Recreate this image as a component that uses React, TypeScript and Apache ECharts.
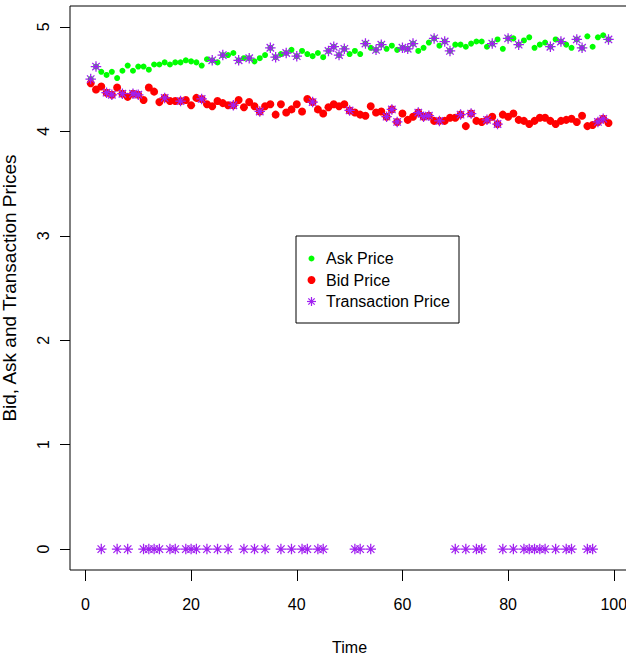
import { useEffect, useRef } from "react";
import * as echarts from "echarts";

// Quotes and trades over 99 time steps (transaction price 0 = no trade)
const ASK_PRICE = [
  4.5, 4.62, 4.57, 4.54, 4.57, 4.51, 4.58, 4.63, 4.58, 4.62,
  4.62, 4.59, 4.64, 4.64, 4.66, 4.64, 4.66, 4.66, 4.68, 4.67,
  4.66, 4.63, 4.69, 4.68, 4.66, 4.73, 4.73, 4.75, 4.68, 4.7,
  4.7, 4.67, 4.7, 4.73, 4.8, 4.71, 4.74, 4.75, 4.78, 4.72,
  4.77, 4.74, 4.72, 4.75, 4.71, 4.77, 4.81, 4.73, 4.79, 4.74,
  4.77, 4.74, 4.84, 4.8, 4.78, 4.83, 4.79, 4.82, 4.78, 4.8,
  4.79, 4.84, 4.77, 4.8, 4.85, 4.89, 4.82, 4.86, 4.77, 4.83,
  4.83, 4.81, 4.84, 4.86, 4.86, 4.81, 4.84, 4.88, 4.79, 4.89,
  4.89, 4.83, 4.87, 4.9, 4.8, 4.83, 4.85, 4.81, 4.88, 4.86,
  4.83, 4.8, 4.88, 4.8, 4.91, 4.81, 4.9, 4.92, 4.88,
];

const BID_PRICE = [
  4.46, 4.4, 4.43, 4.37, 4.35, 4.42, 4.36, 4.33, 4.36, 4.35,
  4.3, 4.42, 4.38, 4.28, 4.32, 4.29, 4.29, 4.29, 4.3, 4.25,
  4.32, 4.31, 4.26, 4.24, 4.29, 4.27, 4.25, 4.25, 4.3, 4.23,
  4.28, 4.24, 4.19, 4.24, 4.26, 4.16, 4.26, 4.18, 4.21, 4.26,
  4.19, 4.31, 4.28, 4.21, 4.17, 4.23, 4.26, 4.24, 4.26, 4.2,
  4.18, 4.16, 4.15, 4.24, 4.18, 4.19, 4.14, 4.21, 4.09, 4.17,
  4.11, 4.14, 4.18, 4.14, 4.15, 4.1, 4.1, 4.1, 4.13, 4.13,
  4.16, 4.05, 4.17, 4.1, 4.09, 4.11, 4.14, 4.07, 4.16, 4.14,
  4.17, 4.11, 4.1, 4.07, 4.1, 4.13, 4.13, 4.1, 4.07, 4.1,
  4.11, 4.12, 4.09, 4.15, 4.05, 4.06, 4.09, 4.12, 4.08,
];

const TRANSACTION_PRICE = [
  4.5, 4.62, 0, 4.37, 4.35, 0, 4.36, 0, 4.36, 4.35,
  0, 0, 0, 0, 4.32, 0, 0, 4.29, 0, 0,
  0, 4.31, 0, 4.68, 0, 4.73, 0, 4.25, 4.68, 0,
  4.7, 0, 4.19, 0, 4.8, 4.71, 0, 4.75, 0, 4.72,
  0, 0, 4.28, 0, 0, 4.77, 4.81, 4.73, 4.79, 4.2,
  0, 0, 4.84, 0, 4.78, 4.83, 4.14, 4.21, 4.09, 4.8,
  4.79, 4.84, 4.18, 4.14, 4.15, 4.89, 4.1, 4.86, 4.77, 0,
  4.16, 0, 4.17, 0, 0, 4.11, 4.84, 4.07, 0, 4.89,
  0, 4.83, 0, 0, 0, 0, 0, 4.81, 0, 4.86,
  0, 0, 4.88, 4.8, 0, 0, 4.09, 4.12, 4.88,
];

const X_TICKS = [0, 20, 40, 60, 80, 100];
const Y_TICKS = [0, 1, 2, 3, 4, 5];
// plotting range: data range padded by 4% on each side
const X_RANGE = [-2.92, 102.92];
const Y_RANGE = [-0.2, 5.2];

const SERIES_NAMES = ["Ask Price", "Bid Price", "Transaction Price"];
const X_TITLE = "Time";
const Y_TITLE = "Bid, Ask and Transaction Prices";

const FONT = "'Liberation Sans', Arial, Helvetica, sans-serif";
const GREEN = "#00FF00";
const RED = "#FF0000";
const PURPLE = "#A020F0";

// eight-armed asterisk (plus + cross), built from thin filled bars
const ASTERISK =
  "path://M8.8 0L11.2 0L11.2 20L8.8 20Z M0 8.8L20 8.8L20 11.2L0 11.2Z " +
  "M3.78 2.08L17.92 16.22L16.22 17.92L2.08 3.78Z M2.08 16.22L16.22 2.08L17.92 3.78L3.78 17.92Z";

const toPoints = (values: number[]) => values.map((v, i) => [i + 1, v]);

function starLines(cx: number, cy: number, r: number) {
  const d = r * Math.SQRT1_2;
  const seg = (x1: number, y1: number, x2: number, y2: number) => ({
    type: "line",
    shape: { x1: cx + x1, y1: cy + y1, x2: cx + x2, y2: cy + y2 },
    style: { stroke: PURPLE, lineWidth: 1.2 },
  });
  return [seg(-r, 0, r, 0), seg(0, -r, 0, r), seg(-d, -d, d, d), seg(-d, d, d, -d)];
}

export default function App() {
  const ref = useRef<HTMLDivElement>(null);

  useEffect(() => {
    if (!ref.current) return;
    const chart = echarts.init(ref.current, null, { renderer: "svg" });

    const axisCommon = {
      type: "value" as const,
      axisLine: { show: false, onZero: false },
      splitLine: { show: false },
      nameLocation: "middle" as const,
    };

    chart.setOption({
      animation: false,
      backgroundColor: "#fff",
      textStyle: { fontFamily: FONT },
      grid: {
        left: 70,
        top: 6,
        right: -3.2,
        bottom: 86,
        show: true,
        borderColor: "#000",
        borderWidth: 1,
        backgroundColor: "transparent",
        containLabel: false,
        outerBoundsMode: "none",
      },
      xAxis: {
        ...axisCommon,
        min: X_RANGE[0],
        max: X_RANGE[1],
        axisTick: {
          show: true,
          inside: false,
          customValues: X_TICKS,
          length: 11,
          lineStyle: { color: "#000", width: 1 },
        },
        axisLabel: {
          customValues: X_TICKS,
          margin: 26,
          fontSize: 16,
          color: "#000",
          fontFamily: FONT,
        },
        name: X_TITLE,
        nameGap: 69,
        nameTextStyle: { color: "#000", fontFamily: FONT, fontSize: 16 },
      },
      yAxis: {
        ...axisCommon,
        min: Y_RANGE[0],
        max: Y_RANGE[1],
        axisTick: {
          show: true,
          inside: false,
          customValues: Y_TICKS,
          length: 10,
          lineStyle: { color: "#000", width: 1 },
        },
        axisLabel: {
          customValues: Y_TICKS,
          rotate: 90,
          margin: 19,
          fontSize: 16,
          color: "#000",
          fontFamily: FONT,
        },
        name: Y_TITLE,
        nameGap: 51,
        nameTextStyle: { color: "#000", fontFamily: FONT, fontSize: 19 },
      },
      series: [
        {
          name: SERIES_NAMES[0],
          type: "scatter",
          clip: false,
          symbol: "circle",
          symbolSize: 6,
          itemStyle: { color: GREEN, opacity: 1 },
          data: toPoints(ASK_PRICE),
        },
        {
          name: SERIES_NAMES[1],
          type: "scatter",
          clip: false,
          symbol: "circle",
          symbolSize: 8,
          itemStyle: { color: RED, opacity: 1 },
          data: toPoints(BID_PRICE),
        },
        {
          name: SERIES_NAMES[2],
          type: "scatter",
          clip: false,
          symbol: ASTERISK,
          symbolSize: 10.5,
          itemStyle: { color: PURPLE, opacity: 1 },
          data: toPoints(TRANSACTION_PRICE),
        },
      ],
      graphic: [
        {
          type: "group",
          z: 20,
          children: [
            {
              type: "rect",
              shape: { x: 296, y: 236, width: 163, height: 87 },
              style: { fill: "#fff", stroke: "#000", lineWidth: 1 },
            },
            {
              type: "circle",
              shape: { cx: 311.5, cy: 258.5, r: 3 },
              style: { fill: GREEN },
            },
            {
              type: "circle",
              shape: { cx: 311.5, cy: 280, r: 4 },
              style: { fill: RED },
            },
            ...starLines(311.5, 301.5, 4.5),
            ...SERIES_NAMES.map((name, i) => ({
              type: "text",
              style: {
                text: name,
                x: 326,
                y: 258.5 + i * 21.5,
                fill: "#000",
                fontSize: 16,
                fontFamily: FONT,
                verticalAlign: "middle",
                align: "left",
              },
            })),
          ],
        },
      ],
    });

    return () => chart.dispose();
  }, []);

  return (
    <div
      ref={ref}
      style={{ position: "absolute", left: 0, top: 0, width: 626, height: 656 }}
    />
  );
}
